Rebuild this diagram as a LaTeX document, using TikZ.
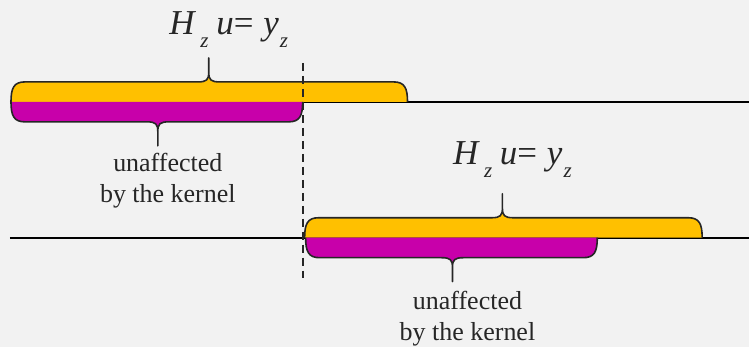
\documentclass[tikz,border=0pt]{standalone}
\usepackage{fontspec}
\setmainfont{Liberation Serif}
\usepackage{tikz}
\usetikzlibrary{positioning}
\definecolor{bgc}{HTML}{F2F2F2}
\definecolor{gold}{HTML}{FFC000}
\definecolor{mag}{HTML}{C800AA}
% filled brace: colour, left x, tip x, right x, base y, direction (-1 up, 1 down)
\newcommand{\kbrace}[6]{%
  \filldraw[bar, fill=#1]
    (#2,#5) .. controls (#2,{#5+14*#6}) and ({#2+3},{#5+20*#6}) .. ({#2+14},{#5+20*#6})
    -- ({#3-11},{#5+20*#6}) .. controls ({#3-2},{#5+20*#6}) and (#3,{#5+22*#6}) .. (#3,{#5+30*#6})
    -- (#3,{#5+44*#6}) -- (#3,{#5+30*#6})
    .. controls (#3,{#5+22*#6}) and ({#3+2},{#5+20*#6}) .. ({#3+11},{#5+20*#6})
    -- ({#4-14},{#5+20*#6}) .. controls ({#4-3},{#5+20*#6}) and (#4,{#5+14*#6}) .. (#4,#5);
}
\newcommand{\hzeq}{\textit{H}\hspace{0.12em}\raisebox{-0.35em}{\fontsize{21}{21}\selectfont\textit{z}}\hspace{0.22em}\textit{u}=\hspace{0.28em}\textit{y}\hspace{0.03em}\raisebox{-0.35em}{\fontsize{21}{21}\selectfont\textit{z}}}

\begin{document}
\begin{tikzpicture}[x=1pt, y=-1pt,
      bar/.style={draw=black!85, line width=1.6pt, line join=round},
      axis/.style={draw=black, line width=1.8pt},
      cut/.style={draw=black!85, line width=1.9pt, dash pattern=on 8pt off 5pt},
      eqn/.style={anchor=base, inner sep=0pt, font=\fontsize{35}{35}\selectfont, text=black!85},
      lbl/.style={align=center, inner sep=0pt, font=\fontsize{26}{31}\selectfont, text=black!85},
    ]
    \fill[bgc] (0,0) rectangle (750,347);

    \draw[axis] (10,102) -- (750,102);
    \draw[axis] (10,238) -- (750,238);

    \kbrace{gold}{11}{209}{408}{102}{-1}
    \kbrace{mag}{11}{158}{303}{102}{1}
    \kbrace{gold}{305}{503}{703}{238}{-1}
    \kbrace{mag}{306}{453}{598}{238}{1}

    \draw[cut] (303,63) -- (303,278);

    \node[eqn] (eqtop) at (229,35) {\hzeq};
    \node[eqn] (eqbot) at (513,165) {\hzeq};

    \node[lbl] (labtop) at (168,181) {unaffected\\by the kernel};
    \node[lbl] (labbot) at (468,319) {unaffected\\by the kernel};
\end{tikzpicture}
\end{document}
